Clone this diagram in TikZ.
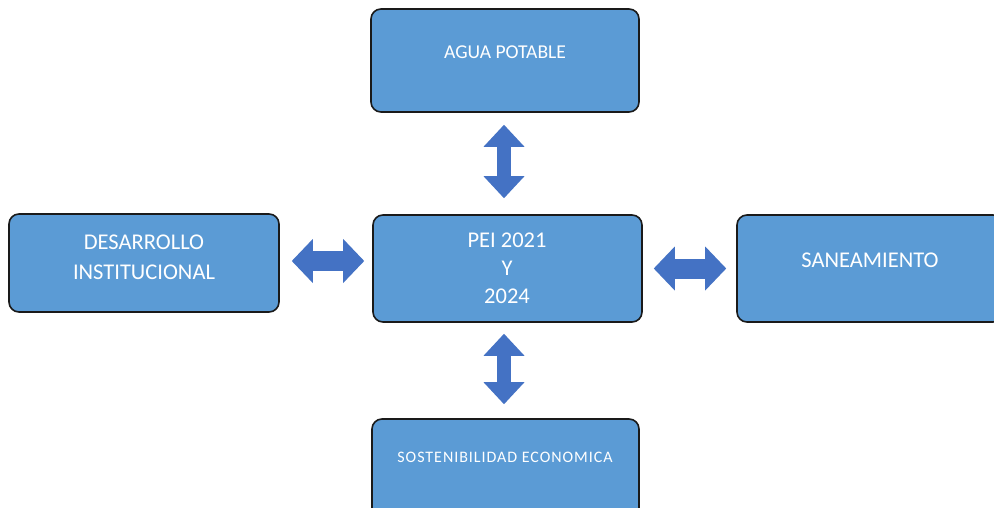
\documentclass[tikz,border=0pt]{standalone}
\usepackage{fontspec}
\setmainfont{Carlito}
\usetikzlibrary{arrows.meta,calc}
\definecolor{boxblue}{HTML}{5B9BD5}
\definecolor{arrowblue}{HTML}{4472C4}
\definecolor{boxline}{HTML}{1A1A1A}
\tikzset{
  box/.style={draw=boxline, line width=1.6pt, fill=boxblue, rounded corners=10pt, inner sep=0pt},
  boxtext/.style={text=white, align=center, inner sep=0pt},
  fatv/.style={draw=arrowblue, line width=14pt,
    {Triangle[length=22pt,width=41pt,line width=0pt]}-{Triangle[length=22pt,width=41pt,line width=0pt]}},
  fath/.style={draw=arrowblue, line width=20pt,
    {Triangle[length=21pt,width=44pt,line width=0pt]}-{Triangle[length=21pt,width=44pt,line width=0pt]}}
}
\begin{document}
\begin{tikzpicture}[x=1pt,y=-1pt]
\clip (0,0) rectangle (994,508);
\fill[white] (0,0) rectangle (994,508);
% boxes
\node[box, minimum width=268pt, minimum height=103pt] (agua) at (505,60.5) {};
\node[box, minimum width=270pt, minimum height=98pt] (des) at (144,263) {};
\node[box, minimum width=269pt, minimum height=107pt] (pei) at (507.5,268.5) {};
\node[box, minimum width=266pt, minimum height=107pt] (san) at (870,268.5) {};
\node[box, minimum width=267pt, minimum height=110pt] (sost) at (505.5,474) {};
% texts
\node[boxtext, font=\fontsize{19.6}{23}\selectfont] (taguas) at (505,52) {AGUA POTABLE};
\node[boxtext, font=\fontsize{22.5}{30}\selectfont] (tdes) at (144,257) {DESARROLLO\\INSTITUCIONAL};
\node[boxtext, font=\fontsize{22.5}{28}\selectfont] (tpei) at (507,268) {PEI 2021\\Y\\2024};
\node[boxtext, font=\fontsize{22.5}{28}\selectfont] (tsan) at (870,260) {SANEAMIENTO};
\node[boxtext, font=\fontsize{16}{20}\selectfont\addfontfeatures{LetterSpace=6}] (tsost) at (505,457) {SOSTENIBILIDAD ECONOMICA};
% arrows
\draw[fatv, shorten <=12pt, shorten >=16pt] ([xshift=-1pt]agua.south) -- ([xshift=-1pt]agua.south |- pei.north);
\draw[fatv, shorten <=11pt, shorten >=14pt] ([xshift=-3.5pt]pei.south) -- ([xshift=-3.5pt]pei.south |- sost.north);
\draw[fath, shorten <=12pt, shorten >=8pt] ([yshift=2pt]des.east) -- ([yshift=2pt]des.east -| pei.west);
\draw[fath, shorten <=11pt, shorten >=10pt] (pei.east) -- (pei.east -| san.west);
\end{tikzpicture}
\end{document}
